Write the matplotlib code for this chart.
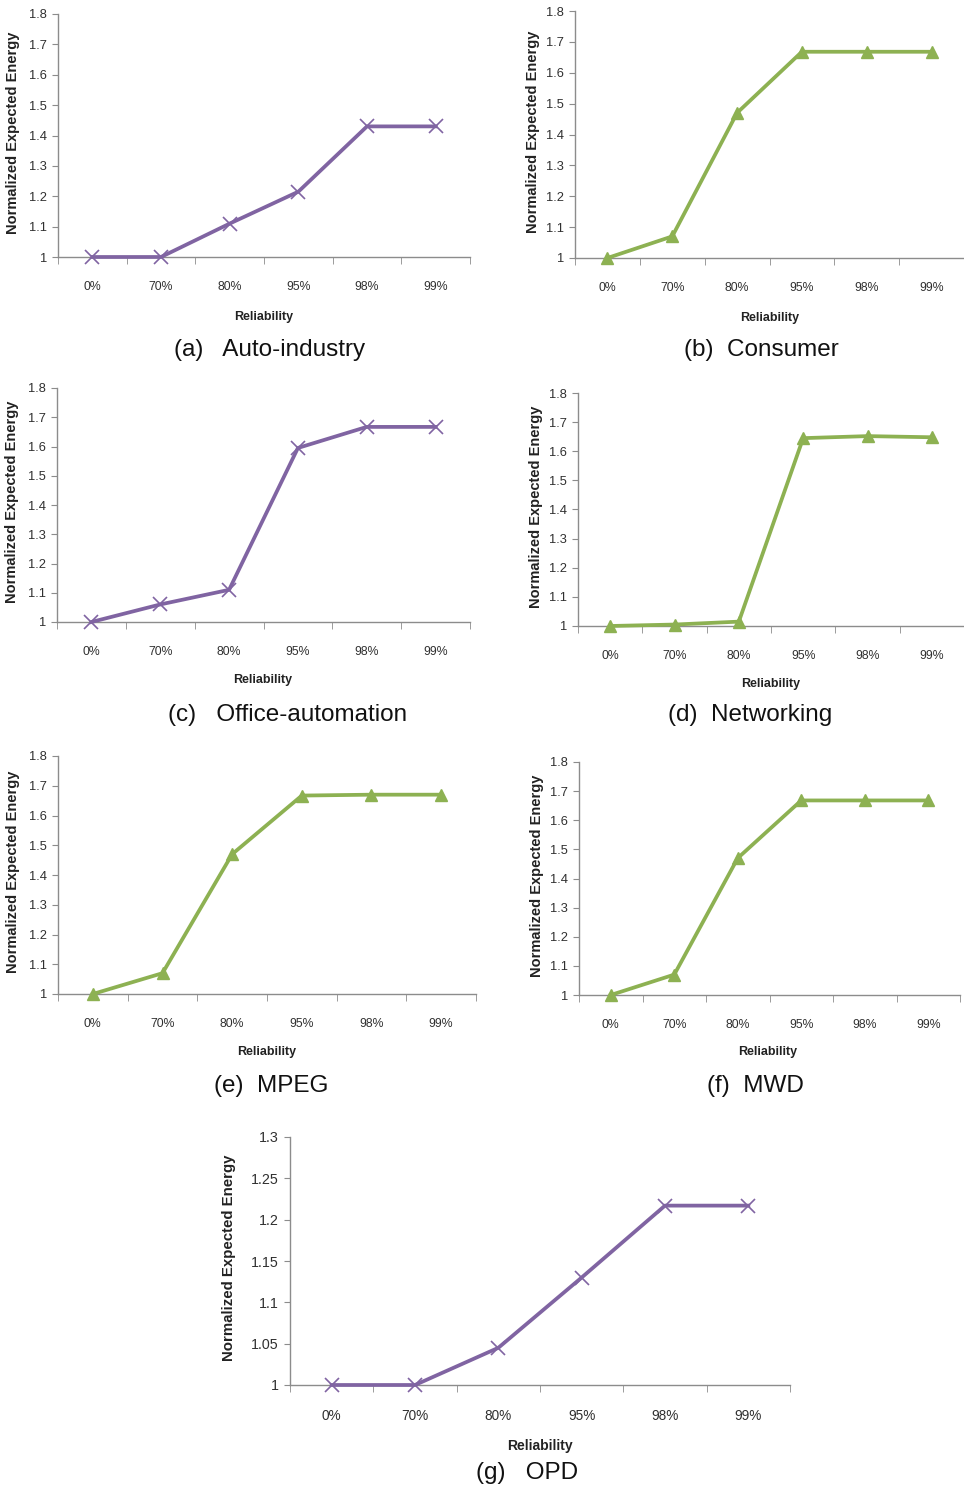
import matplotlib
matplotlib.use("Agg")
import matplotlib.pyplot as plt
import numpy as np

W, H = 964, 1489

categories = ["0%", "70%", "80%", "95%", "98%", "99%"]

auto_industry = [1.0, 1.0, 1.11, 1.215, 1.43, 1.43]
consumer = [1.0, 1.07, 1.47, 1.668, 1.668, 1.668]
office_automation = [1.0, 1.06, 1.11, 1.595, 1.667, 1.667]
networking = [1.0, 1.005, 1.015, 1.645, 1.652, 1.648]
mpeg = [1.0, 1.07, 1.47, 1.667, 1.67, 1.67]
mwd = [1.0, 1.07, 1.47, 1.668, 1.668, 1.668]
opd = [1.0, 1.0, 1.045, 1.13, 1.217, 1.217]

yticks_main = [1, 1.1, 1.2, 1.3, 1.4, 1.5, 1.6, 1.7, 1.8]
ytick_labels_main = ["1", "1.1", "1.2", "1.3", "1.4", "1.5", "1.6", "1.7", "1.8"]
yticks_opd = [1, 1.05, 1.1, 1.15, 1.2, 1.25, 1.3]
ytick_labels_opd = ["1", "1.05", "1.1", "1.15", "1.2", "1.25", "1.3"]

captions = ["(a)   Auto-industry", "(b)  Consumer", "(c)   Office-automation",
            "(d)  Networking", "(e)  MPEG", "(f)  MWD", "(g)   OPD"]

PURPLE = "#8064a2"
GREEN = "#8db152"
SPINE = "#8c8c8c"
TXT = "#303030"

tick_font = ["Liberation Sans Narrow", "Liberation Sans", "DejaVu Sans"]
label_font = ["Liberation Sans Narrow", "Liberation Sans", "DejaVu Sans"]
cap_font = ["Liberation Sans", "DejaVu Sans"]

panels = [
    dict(data=auto_industry, col=PURPLE, mk="x", box=(58, 470, 14, 257), yt=(yticks_main, ytick_labels_main),
         ylim=(1, 1.8), rel=(264, 317), cap=(270, 350), ylab=13, tfs=8.5),
    dict(data=consumer, col=GREEN, mk="^", box=(575, 964, 11, 258), yt=(yticks_main, ytick_labels_main),
         ylim=(1, 1.8), rel=(770, 318), cap=(761, 350), ylab=533, tfs=8.5),
    dict(data=office_automation, col=PURPLE, mk="x", box=(57, 470, 388, 622), yt=(yticks_main, ytick_labels_main),
         ylim=(1, 1.8), rel=(263, 680), cap=(288, 715), ylab=12, tfs=8.5),
    dict(data=networking, col=GREEN, mk="^", box=(578, 964, 393, 626), yt=(yticks_main, ytick_labels_main),
         ylim=(1, 1.8), rel=(771, 684), cap=(750, 715), ylab=536, tfs=8.5),
    dict(data=mpeg, col=GREEN, mk="^", box=(58, 476, 756, 994), yt=(yticks_main, ytick_labels_main),
         ylim=(1, 1.8), rel=(267, 1052), cap=(271, 1086), ylab=13, tfs=8.5),
    dict(data=mwd, col=GREEN, mk="^", box=(579, 960, 762, 995), yt=(yticks_main, ytick_labels_main),
         ylim=(1, 1.8), rel=(768, 1052), cap=(755, 1086), ylab=537, tfs=8.5),
    dict(data=opd, col=PURPLE, mk="x", box=(290, 790, 1137, 1385), yt=(yticks_opd, ytick_labels_opd),
         ylim=(1, 1.3), rel=(540, 1446), cap=(527, 1473), ylab=229, tfs=9.5),
]

fig = plt.figure(figsize=(W / 100, H / 100), dpi=100)
fig.patch.set_facecolor("white")

x = np.arange(len(categories))
for p, cap in zip(panels, captions):
    l, r, t, b = p["box"]
    ax = fig.add_axes([l / W, 1 - b / H, (r - l) / W, (b - t) / H])
    ax.set_xlim(-0.5, len(categories) - 0.5)
    ax.set_ylim(*p["ylim"])
    ms = 10 if p["mk"] == "x" else 8.5
    ax.plot(x, p["data"], color=p["col"], lw=2.7, marker=p["mk"], ms=ms,
            mew=1.2 if p["mk"] == "x" else 1, mfc=p["col"], mec=p["col"], clip_on=False, zorder=3)
    for s in ["top", "right"]:
        ax.spines[s].set_visible(False)
    for s in ["left", "bottom"]:
        ax.spines[s].set_color(SPINE)
        ax.spines[s].set_linewidth(1.0)
    ax.set_xticks(x)
    ax.set_xticklabels(categories, family=tick_font, fontsize=p["tfs"] + 0.3, color=TXT)
    ax.set_xticks(np.arange(-0.5, len(categories)), minor=True)
    ax.tick_params(axis="x", which="major", length=0, pad=17)
    ax.tick_params(axis="x", which="minor", length=5, color=SPINE, direction="out")
    ax.set_yticks(p["yt"][0])
    ax.set_yticklabels(p["yt"][1], family=tick_font, fontsize=p["tfs"] + 0.8, color=TXT)
    ax.tick_params(axis="y", length=4, color=SPINE, direction="out", pad=4)
    ax.set_facecolor("white")

    fig.text(p["ylab"] / W, 1 - ((t + b) / 2 - 3) / H, "Normalized Expected Energy", rotation=90,
             ha="center", va="center", family=label_font, fontsize=10.5 if p["tfs"] < 9 else 10.8,
             fontweight="bold", color="#222222")
    fig.text(p["rel"][0] / W, 1 - p["rel"][1] / H, "Reliability", ha="center", va="center",
             family=label_font, fontsize=9 if p["tfs"] < 9 else 10, fontweight="bold", color="#222222")
    fig.text(p["cap"][0] / W, 1 - p["cap"][1] / H, cap, ha="center", va="center",
             family=cap_font, fontsize=17.5, color="#111111")

fig.savefig("out.png", dpi=100, facecolor="white")
